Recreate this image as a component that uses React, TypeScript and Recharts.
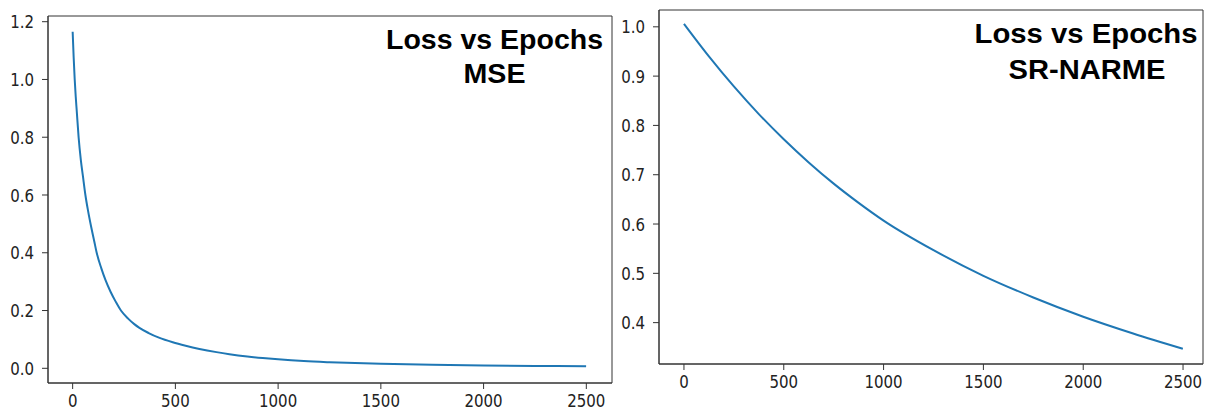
import React from 'react';
import { LineChart, Line, XAxis, YAxis, ReferenceArea } from 'recharts';

// MSE panel (left)
const mseEpochs = [0, 5, 10, 15, 20, 29, 40, 50, 62, 75, 90, 105, 117, 140, 160, 185, 210, 235, 270, 300, 325, 370, 420, 487, 550, 617, 700, 763, 850, 925, 1000, 1125, 1250, 1500, 1750, 2000, 2250, 2499];
const mseLoss = [1.165, 1.075, 1.0, 0.94, 0.89, 0.8, 0.72, 0.665, 0.6, 0.545, 0.49, 0.44, 0.4, 0.345, 0.305, 0.264, 0.23, 0.2, 0.172, 0.153, 0.14, 0.122, 0.106, 0.09, 0.078, 0.067, 0.056, 0.049, 0.041, 0.0355, 0.031, 0.025, 0.021, 0.0155, 0.0122, 0.0098, 0.0082, 0.0072];

// SR-NARME panel (right)
const srEpochs = [0, 125, 250, 375, 500, 625, 750, 875, 1000, 1250, 1500, 1750, 2000, 2250, 2499];
const srLoss = [1.006, 0.94, 0.879, 0.823, 0.772, 0.725, 0.682, 0.643, 0.607, 0.547, 0.495, 0.451, 0.412, 0.378, 0.347];

const xTicks = [0, 500, 1000, 1500, 2000, 2500];
const mseYTicks = [0, 0.2, 0.4, 0.6, 0.8, 1.0, 1.2];
const srYTicks = [0.4, 0.5, 0.6, 0.7, 0.8, 0.9, 1.0];

const titleLine1 = 'Loss vs Epochs';
const mseTitle2 = 'MSE';
const srTitle2 = 'SR-NARME';

const mseData = mseEpochs.map((e, i) => ({ epoch: e, loss: mseLoss[i] }));
const srData = srEpochs.map((e, i) => ({ epoch: e, loss: srLoss[i] }));

const AXIS = '#333333';
const BLUE = '#1f77b4';
const TICK_FONT = 'DejaVu Sans';

function XTick(props: any) {
  const { x, y, payload } = props;
  return (
    <text
      transform={`translate(${x},${y + 17.8}) scale(1,1.19)`}
      textAnchor="middle"
      fontFamily={TICK_FONT}
      fontSize={15}
      fill="#222"
    >
      {String(payload.value)}
    </text>
  );
}

function YTick(props: any) {
  const { x, y, payload } = props;
  return (
    <text
      transform={`translate(${x},${y + 6.6}) scale(1,1.19)`}
      textAnchor="end"
      fontFamily={TICK_FONT}
      fontSize={15}
      fill="#222"
    >
      {Number(payload.value).toFixed(1)}
    </text>
  );
}

function Panel({ data, xDomain, yDomain, yTicks, width, height, margin, yWidth, xHeight }: any) {
  return (
    <LineChart width={width} height={height} data={data} margin={margin}>
      <XAxis
        dataKey="epoch"
        type="number"
        domain={xDomain}
        ticks={xTicks}
        allowDataOverflow
        height={xHeight}
        tickSize={6}
        tickMargin={0}
        stroke={AXIS}
        tick={<XTick />}
        axisLine={{ stroke: AXIS }}
        tickLine={{ stroke: AXIS }}
      />
      <YAxis
        type="number"
        domain={yDomain}
        ticks={yTicks}
        allowDataOverflow
        width={yWidth}
        tickSize={6}
        tickMargin={8}
        stroke={AXIS}
        tick={<YTick />}
        axisLine={{ stroke: AXIS }}
        tickLine={{ stroke: AXIS }}
      />
      <ReferenceArea
        x1={xDomain[0]}
        x2={xDomain[1]}
        y1={yDomain[0]}
        y2={yDomain[1]}
        fill="none"
        fillOpacity={0}
        stroke={AXIS}
        strokeWidth={1}
        ifOverflow="visible"
      />
      <Line
        type="monotone"
        dataKey="loss"
        stroke={BLUE}
        strokeWidth={2}
        dot={false}
        isAnimationActive={false}
      />
    </LineChart>
  );
}

export default function App() {
  const titleStyle: any = { fontFamily: 'Liberation Sans, Arial, sans-serif', fontWeight: 'bold', fontSize: 27, fill: '#000' };
  return (
    <div style={{ position: 'absolute', left: 0, top: 0, width: 1207, height: 411, background: '#fff' }}>
      <div style={{ position: 'absolute', left: 0, top: 0 }}>
        <Panel
          data={mseData}
          xDomain={[-120, 2625]}
          yDomain={[-0.0509, 1.2197]}
          yTicks={mseYTicks}
          width={615}
          height={411}
          margin={{ top: 16, right: 3, bottom: 0, left: 0 }}
          yWidth={48}
          xHeight={28}
        />
      </div>
      <div style={{ position: 'absolute', left: 611, top: 0 }}>
        <Panel
          data={srData}
          xDomain={[-125, 2600]}
          yDomain={[0.3161, 1.0341]}
          yTicks={srYTicks}
          width={596}
          height={411}
          margin={{ top: 10, right: 4, bottom: 0, left: 0 }}
          yWidth={48}
          xHeight={47}
        />
      </div>
      <svg width={1207} height={411} style={{ position: 'absolute', left: 0, top: 0, pointerEvents: 'none' }}>
        <text x={494.5} y={48.5} textAnchor="middle" textLength={217} lengthAdjust="spacingAndGlyphs" style={titleStyle}>{titleLine1}</text>
        <text x={494.5} y={82.5} textAnchor="middle" textLength={62} lengthAdjust="spacingAndGlyphs" style={titleStyle}>{mseTitle2}</text>
        <text x={1086} y={42.5} textAnchor="middle" textLength={223} lengthAdjust="spacingAndGlyphs" style={titleStyle}>{titleLine1}</text>
        <text x={1087} y={78.5} textAnchor="middle" textLength={157} lengthAdjust="spacingAndGlyphs" style={titleStyle}>{srTitle2}</text>
      </svg>
    </div>
  );
}
